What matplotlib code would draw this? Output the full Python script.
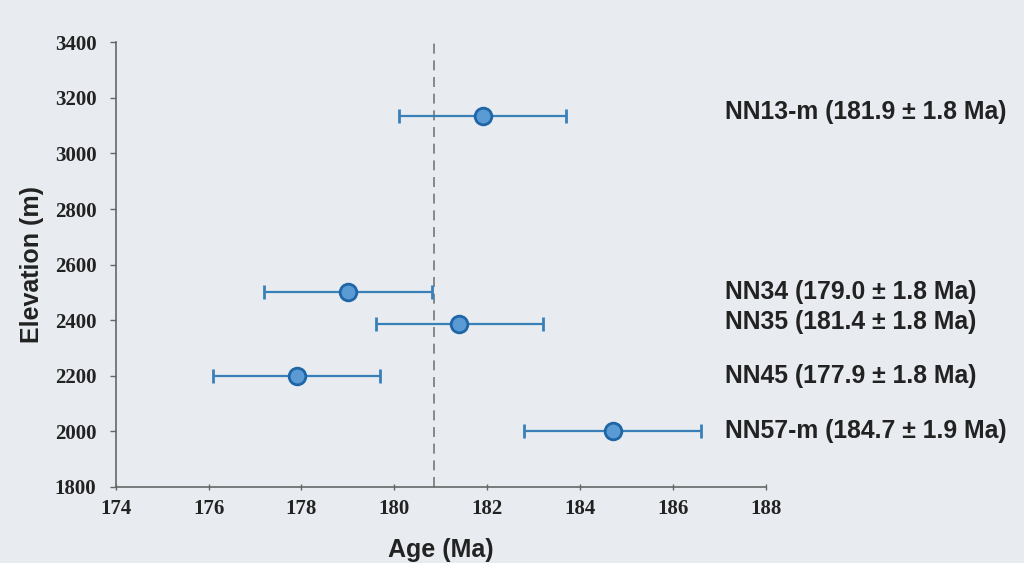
import matplotlib.pyplot as plt
import numpy as np

plt.rcParams['savefig.dpi'] = 100

# 样品数据
samples = ['NN13-m', 'NN34', 'NN35', 'NN45', 'NN57-m']
age = [181.9, 179.0, 181.4, 177.9, 184.7]
err = [1.8, 1.8, 1.8, 1.8, 1.9]
elev = [3135, 2500, 2385, 2200, 2000]
label_y = [3150, 2500, 2395, 2200, 2000]
mean_age = 180.85

xticks = np.arange(174, 189, 2)
yticks = np.arange(1800, 3401, 200)

bg = '#e8ecf0'
fig = plt.figure(figsize=(10.24, 5.63), facecolor=bg)
ax = fig.add_axes([0.113, 0.135, 0.635, 0.79], facecolor=bg)

ax.axvline(mean_age, color='#777777', linestyle=(0, (6, 4)), linewidth=1.2, zorder=1)
ax.errorbar(age, elev, xerr=err, fmt='o', color='#2f78b4', ecolor='#3a80b8',
            elinewidth=1.6, capsize=5, capthick=1.6, markersize=12,
            markerfacecolor='#5b9bd5', markeredgecolor='#1f66a6',
            markeredgewidth=2, zorder=3)

for s, a, e, y in zip(samples, age, err, label_y):
    ax.text(187.12, y, f'{s} ({a:.1f} ± {e:.1f} Ma)', ha='left', va='center',
            fontsize=17.8, fontweight='bold', color='#222222',
            family='Liberation Sans', clip_on=False)

ax.set_xlim(174, 188)
ax.set_ylim(1800, 3400)
ax.set_xticks(xticks)
ax.set_yticks(yticks)
for sp in ['top', 'right']:
    ax.spines[sp].set_visible(False)
for sp in ['left', 'bottom']:
    ax.spines[sp].set_color('#666666')
    ax.spines[sp].set_linewidth(1.2)
ax.tick_params(axis='y', direction='out', length=4, color='#666666', width=1, pad=10)
ax.tick_params(axis='x', direction='inout', length=5, color='#666666', width=1, pad=6)
for lab in ax.get_xticklabels() + ax.get_yticklabels():
    lab.set_family('Liberation Serif')
    lab.set_fontweight('bold')
    lab.set_fontsize(15)
    lab.set_color('#222222')

ax.set_xlabel('Age (Ma)', fontsize=18, fontweight='bold', family='Liberation Sans',
              color='#222222', labelpad=14)
ax.set_ylabel('Elevation (m)', fontsize=18, fontweight='bold', family='Liberation Sans',
              color='#222222', labelpad=8)

plt.savefig('out.png', facecolor=bg)
